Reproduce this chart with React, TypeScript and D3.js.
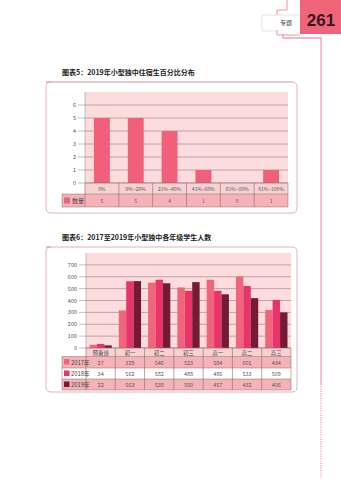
import React from "react";
import * as d3 from "d3";

const cats1 = ["0%", "0%~20%", "21%~40%", "41%~60%", "61%~80%", "81%~100%"];
const vals1 = [5, 5, 4, 1, 0, 1];
const ticks1 = [0, 1, 2, 3, 4, 5, 6];
const series1Name = "数量";

const cats2 = ["预备班", "初一", "初二", "初三", "高一", "高二", "高三"];
const years = ["2017年", "2018年", "2019年"];
const bars2017 = [27, 316, 550, 510, 575, 603, 320];
const bars2018 = [34, 562, 575, 482, 482, 522, 405];
const bars2019 = [22, 563, 545, 555, 452, 420, 300];
const table2017 = ["27", "329", "546", "523", "584", "601", "434"];
const table2018 = ["34", "562", "582", "488", "486", "533", "509"];
const table2019 = ["22", "563", "538", "550", "457", "432", "406"];
const ticks2 = [0, 100, 200, 300, 400, 500, 600, 700];

const title1 = "图表5：2019年小型独中住宿生百分比分布";
const title2 = "图表6：2017至2019年小型独中各年级学生人数";

const FONT = "'Noto Sans CJK SC', 'Noto Sans', sans-serif";
const BAR1 = "#f0607a";
const COLORS = ["#f0657c", "#e83468", "#751a35"];
const PLOTBG = "#fcdcdc";
const HEADROW = "#f8d2d2";
const DATAROW = "#f5b2b8";
const GRID = "#b39595";
const DARKLINE = "#8c6a6a";
const FRAME = "#d9a0ae";

function Chart1() {
  const left = 85, right = 288, top = 92, bottom = 183;
  const x = d3.scaleBand<string>().domain(cats1).range([left, right]);
  const y = d3.scaleLinear().domain([0, 7]).range([bottom, top]);
  const bw = x.bandwidth() * 0.47;
  const r1 = [bottom, 194];
  const r2 = [194, 207];
  return (
    <g>
      <rect x={left} y={top} width={right - left} height={bottom - top} fill={PLOTBG} />
      {ticks1.map((t) => (
        <g key={t}>
          <line x1={left} x2={right} y1={y(t)} y2={y(t)} stroke={GRID} strokeWidth={0.8} />
          <line x1={78} x2={left} y1={y(t)} y2={y(t)} stroke="#999" strokeWidth={0.6} />
          <text x={76} y={y(t) + 2} fontSize={5.5} fill="#555" textAnchor="end" fontFamily={FONT}>{t}</text>
        </g>
      ))}
      <line x1={left} x2={left} y1={top} y2={bottom} stroke="#999" strokeWidth={0.6} />
      {cats1.map((c, i) => (
        <rect key={c} x={(x(c) as number) + (x.bandwidth() - bw) / 2} y={y(vals1[i])} width={bw} height={bottom - y(vals1[i])} fill={BAR1} />
      ))}
      {/* table */}
      <rect x={left} y={r1[0]} width={right - left} height={r1[1] - r1[0]} fill={HEADROW} />
      <rect x={62} y={r2[0]} width={right - 62} height={r2[1] - r2[0]} fill={DATAROW} />
      <line x1={left} x2={right} y1={r1[0]} y2={r1[0]} stroke={DARKLINE} strokeWidth={0.7} />
      <line x1={62} x2={right} y1={r2[0]} y2={r2[0]} stroke={DARKLINE} strokeWidth={0.5} />
      <line x1={62} x2={right} y1={r2[1]} y2={r2[1]} stroke={DARKLINE} strokeWidth={0.5} />
      <line x1={62} x2={62} y1={r2[0]} y2={r2[1]} stroke={DARKLINE} strokeWidth={0.5} />
      <line x1={right} x2={right} y1={r1[0]} y2={r2[1]} stroke={DARKLINE} strokeWidth={0.5} />
      {cats1.map((c, i) => (
        <line key={"v" + c} x1={x(c) as number} x2={x(c) as number} y1={r1[0]} y2={r2[1]} stroke={DARKLINE} strokeWidth={0.6} />
      ))}
      {cats1.map((c, i) => (
        <g key={"t" + c}>
          <text x={(x(c) as number) + x.bandwidth() / 2} y={r1[0] + 7.5} fontSize={5} fill="#555" textAnchor="middle" fontFamily={FONT}>{c}</text>
          <text x={(x(c) as number) + x.bandwidth() / 2} y={r2[0] + 8.5} fontSize={5} fill="#555" textAnchor="middle" fontFamily={FONT}>{vals1[i]}</text>
        </g>
      ))}
      <rect x={64} y={r2[0] + 3.5} width={6} height={6} fill={BAR1} />
      <text x={72} y={r2[0] + 9} fontSize={6} fill="#444" fontFamily={FONT}>{series1Name}</text>
    </g>
  );
}

function Chart2() {
  const left = 86, right = 291, top = 253, bottom = 348;
  const x = d3.scaleBand<string>().domain(cats2).range([left, right]);
  const inner = d3.scaleBand<string>().domain(years).range([0, x.bandwidth() * 0.76]);
  const off = (x.bandwidth() - x.bandwidth() * 0.76) / 2;
  const y = d3.scaleLinear().domain([0, 800]).range([bottom, top]);
  const series = [bars2017, bars2018, bars2019];
  const tables = [table2017, table2018, table2019];
  const rows = [[bottom, 356.5], [356.5, 368], [368, 379], [379, 390]];
  const rowFill = [HEADROW, DATAROW, "#ffffff", DATAROW];
  return (
    <g>
      <rect x={left} y={top} width={right - left} height={bottom - top} fill={PLOTBG} />
      {ticks2.map((t) => (
        <g key={t}>
          <line x1={left} x2={right} y1={y(t)} y2={y(t)} stroke={GRID} strokeWidth={0.8} />
          <line x1={79} x2={left} y1={y(t)} y2={y(t)} stroke="#999" strokeWidth={0.6} />
          <text x={77} y={y(t) + 2} fontSize={5.5} fill="#555" textAnchor="end" fontFamily={FONT}>{t}</text>
        </g>
      ))}
      <line x1={left} x2={left} y1={top} y2={bottom} stroke="#999" strokeWidth={0.6} />
      {cats2.map((c, i) => (
        <g key={c}>
          {years.map((yr, k) => (
            <rect key={yr} x={(x(c) as number) + off + (inner(yr) as number)} y={y(series[k][i])} width={inner.bandwidth()} height={bottom - y(series[k][i])} fill={COLORS[k]} />
          ))}
        </g>
      ))}
      {rows.map((r, j) => (
        <rect key={"r" + j} x={j === 0 ? left : 62} y={r[0]} width={right - (j === 0 ? left : 62)} height={r[1] - r[0]} fill={rowFill[j]} />
      ))}
      <line x1={left} x2={right} y1={bottom} y2={bottom} stroke={DARKLINE} strokeWidth={0.7} />
      {rows.slice(1).map((r, j) => (
        <g key={"h" + j}>
          <line x1={62} x2={right} y1={r[0]} y2={r[0]} stroke={DARKLINE} strokeWidth={0.5} />
        </g>
      ))}
      <line x1={62} x2={right} y1={390} y2={390} stroke={DARKLINE} strokeWidth={0.5} />
      <line x1={62} x2={62} y1={356.5} y2={390} stroke={DARKLINE} strokeWidth={0.5} />
      <line x1={right} x2={right} y1={bottom} y2={390} stroke={DARKLINE} strokeWidth={0.5} />
      {cats2.map((c) => (
        <line key={"v" + c} x1={x(c) as number} x2={x(c) as number} y1={bottom} y2={390} stroke={DARKLINE} strokeWidth={0.6} />
      ))}
      {cats2.map((c, i) => (
        <g key={"t" + c}>
          <text x={(x(c) as number) + x.bandwidth() / 2} y={bottom + 6.5} fontSize={5.5} fill="#444" textAnchor="middle" fontFamily={FONT}>{c}</text>
          {tables.map((tb, k) => (
            <text key={k} x={(x(c) as number) + x.bandwidth() / 2} y={rows[k + 1][0] + 8} fontSize={5.5} fill="#555" textAnchor="middle" fontFamily={FONT}>{tb[i]}</text>
          ))}
        </g>
      ))}
      {years.map((yr, k) => (
        <g key={"l" + yr}>
          <rect x={64} y={rows[k + 1][0] + 2.5} width={5.5} height={5.5} fill={COLORS[k]} />
          <text x={71} y={rows[k + 1][0] + 8} fontSize={5.8} fill="#444" fontFamily={FONT}>{yr}</text>
        </g>
      ))}
    </g>
  );
}

export default function App() {
  return (
    <svg width={341} height={480} style={{ position: "fixed", left: 0, top: 0, background: "#fff" }}>
      {/* header decoration */}
      <rect x={300} y={0} width={41} height={34} fill="#f0647a" />
      <text x={321} y={26} fontSize={17} fontWeight="bold" fill="#3a1620" textAnchor="middle" fontFamily="'Liberation Sans', Arial, sans-serif">261</text>
      <path d="M287 0 V10 H277 V15" fill="none" stroke="#ef7a8c" strokeWidth={0.8} />
      <path d="M262 15 H300 M262 15 V31 H277" fill="none" stroke="#e0d0d0" strokeWidth={0.6} />
      <text x={280} y={25} fontSize={6} fill="#444" fontFamily={FONT}>专题</text>
      <path d="M277 30 V35 H300" fill="none" stroke="#ef7a8c" strokeWidth={0.8} />
      <path d="M283 34 V38 H321 V385" fill="none" stroke="#f2a0b0" strokeWidth={1.3} />
      <line x1={321} x2={321} y1={386} y2={478} stroke="#f2a0b0" strokeWidth={1.3} strokeDasharray="1.2,1.2" />

      {/* chart 1 */}
      <text x={62} y={75} fontSize={7} fontWeight="bold" fill="#222" fontFamily={FONT}>{title1}</text>
      <line x1={50} x2={292} y1={82} y2={82} stroke="#f2c4cc" strokeWidth={1} />
      <path d="M46 82 H292 Q297 82 297 87 V208 Q297 213 292 213 H51 Q46 213 46 208 V87 Q46 82 51 82 Z" fill="none" stroke={FRAME} strokeWidth={0.8} />
      <Chart1 />

      {/* chart 2 */}
      <text x={62} y={240} fontSize={7} fontWeight="bold" fill="#222" fontFamily={FONT}>{title2}</text>
      <path d="M46 247 H292 Q297 247 297 252 V387 Q297 392 292 392 H51 Q46 392 46 387 V252 Q46 247 51 247 Z" fill="none" stroke={FRAME} strokeWidth={0.8} />
      <Chart2 />
    </svg>
  );
}
